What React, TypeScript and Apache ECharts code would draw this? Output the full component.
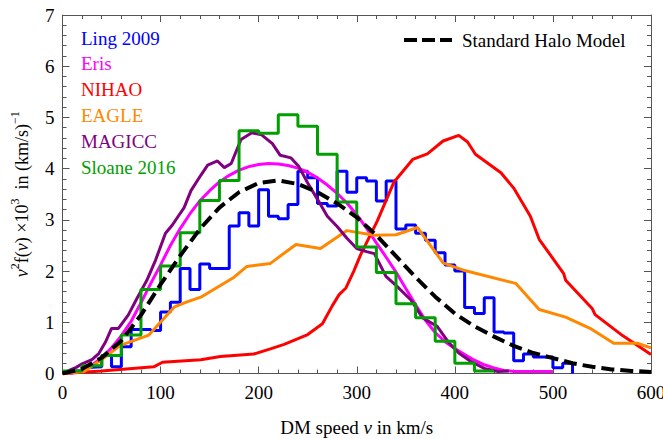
import React, { useEffect, useRef } from "react";
import * as echarts from "echarts";

const FONT = "'Liberation Serif', 'Times New Roman', serif";
const AXIS_COLOR = "#555";

// Ling 2009 histogram (10 km/s bins, left edges)
const lingEdges = [0, 10, 20, 30, 40, 50, 60, 70, 80, 90, 100, 110, 120, 130, 140, 150, 160, 170, 180, 190, 200, 210, 220, 230, 240, 250, 260, 270, 280, 290, 300, 310, 320, 330, 340, 350, 360, 370, 380, 390, 400, 410, 420, 430, 440, 450, 460, 470, 480, 490, 500, 510, 520];
const lingValues = [0.03, 0.05, 0.12, 0.13, 0.35, 0.13, 0.52, 0.86, 0.86, 0.84, 1.2, 1.39, 2.05, 1.64, 2.14, 2.05, 2.05, 2.88, 3.14, 2.88, 3.59, 3.07, 3.02, 3.3, 3.95, 3.82, 3.32, 3.27, 3.95, 3.54, 3.82, 3.76, 3.37, 3.76, 2.82, 2.9, 2.74, 2.6, 2.36, 2.12, 2.0, 1.29, 1.17, 1.48, 0.81, 0.79, 0.25, 0.38, 0.32, 0.32, 0.11, 0.2, 0];

// Sloane 2016 histogram (20 km/s bins, left edges)
const sloaneEdges = [0, 20, 40, 60, 80, 100, 120, 140, 160, 180, 200, 220, 240, 260, 280, 300, 320, 340, 360, 380, 400, 420, 440];
const sloaneValues = [0.05, 0.15, 0.35, 0.75, 1.64, 2.1, 2.75, 3.38, 3.77, 4.74, 4.69, 5.05, 4.83, 4.28, 3.35, 2.47, 1.97, 1.36, 1.09, 0.63, 0.2, 0.05, 0.05];

// Eris
const erisV = [0, 10, 20, 30, 40, 50, 60, 70, 80, 90, 100, 110, 120, 130, 140, 150, 160, 170, 180, 190, 200, 210, 220, 230, 240, 250, 260, 270, 280, 290, 300, 310, 320, 330, 340, 350, 360, 370, 380, 390, 400, 410, 420, 430, 440, 450, 460, 500];
const erisF = [0, 0.01, 0.06, 0.16, 0.31, 0.5, 0.74, 1.02, 1.38, 1.76, 2.12, 2.5, 2.83, 3.12, 3.37, 3.57, 3.74, 3.87, 3.97, 4.04, 4.08, 4.1, 4.09, 4.06, 4.01, 3.93, 3.82, 3.68, 3.52, 3.33, 3.1, 2.84, 2.55, 2.27, 1.98, 1.66, 1.34, 1.04, 0.8, 0.62, 0.49, 0.37, 0.26, 0.17, 0.11, 0.06, 0.04, 0.04];

// NIHAO
const nihaoV = [0, 40, 93, 102, 141, 161, 195, 212, 226, 250, 265, 275, 282, 289, 297, 304, 321, 338, 357, 372, 388, 404, 413, 421, 447, 460, 477, 486, 511, 513, 540, 543, 571, 600];
const nihaoF = [0, 0.05, 0.13, 0.22, 0.27, 0.33, 0.38, 0.48, 0.57, 0.76, 0.97, 1.32, 1.54, 1.67, 2.0, 2.32, 2.98, 3.74, 4.18, 4.29, 4.54, 4.65, 4.52, 4.28, 3.92, 3.62, 3.07, 2.62, 1.95, 1.82, 1.27, 1.15, 0.74, 0.37];

// EAGLE
const eagleV = [0, 22, 39, 59, 88, 114, 127, 141, 175, 188, 212, 238, 263, 290, 318, 340, 362, 388, 410, 462, 486, 513, 539, 562, 586, 600];
const eagleF = [0, 0.04, 0.26, 0.55, 0.75, 1.3, 1.4, 1.49, 1.88, 2.09, 2.15, 2.52, 2.44, 2.79, 2.7, 2.71, 2.85, 2.16, 2.01, 1.76, 1.25, 1.1, 0.87, 0.59, 0.59, 0.5];

// MAGICC
const magiccV = [0, 8, 14, 20, 30, 37, 44, 50, 57, 67, 76, 86, 95, 105, 112, 118, 124, 131, 141, 148, 158, 165, 172, 182, 193, 203, 214, 222, 233, 241, 250, 260, 270, 280, 290, 300, 310, 318, 330, 340, 355, 367, 382, 394, 404, 416, 430, 444, 455];
const magiccF = [0, 0.07, 0.12, 0.19, 0.27, 0.39, 0.62, 0.88, 0.88, 1.14, 1.47, 1.82, 2.22, 2.74, 2.9, 3.07, 3.24, 3.57, 3.87, 4.07, 4.15, 4.02, 4.1, 4.57, 4.7, 4.66, 4.49, 4.26, 4.21, 4.04, 3.72, 3.4, 3.07, 2.87, 2.64, 2.44, 2.38, 2.34, 1.89, 1.72, 1.44, 1.09, 0.92, 0.6, 0.4, 0.24, 0.1, 0.04, 0.05];

// Standard Halo Model
const shmV = [0, 20, 40, 60, 80, 100, 120, 140, 160, 180, 200, 220, 240, 260, 280, 300, 320, 340, 360, 380, 400, 420, 440, 460, 480, 500, 520, 540, 560, 580, 600];
const shmF = [0, 0.09, 0.31, 0.64, 1.14, 1.74, 2.3, 2.82, 3.24, 3.54, 3.72, 3.77, 3.7, 3.54, 3.32, 3.05, 2.7, 2.29, 1.88, 1.5, 1.17, 0.92, 0.72, 0.54, 0.4, 0.3, 0.2, 0.13, 0.08, 0.05, 0.03];

const leftLegendNames = ["Ling 2009", "Eris", "NIHAO", "EAGLE", "MAGICC", "Sloane 2016"];
const shmLegendName = "Standard Halo Model";

const xTicks = { min: 0, max: 600, interval: 100 };
const yTicks = { min: 0, max: 7, interval: 1 };

const COLORS: Record<string, string> = {
  "Ling 2009": "#0000ff",
  Eris: "#ff00ff",
  NIHAO: "#ff0000",
  EAGLE: "#ff8800",
  MAGICC: "#800080",
  "Sloane 2016": "#00a000",
  "Standard Halo Model": "#000000",
};

function pairs(xs: number[], ys: number[]) {
  return xs.map((x, i) => [x, ys[i]]);
}

function axisCommon() {
  return {
    type: "value" as const,
    axisLine: { show: true, onZero: false, lineStyle: { color: AXIS_COLOR, width: 1 } },
    axisTick: { show: true, inside: true, length: 7, lineStyle: { color: AXIS_COLOR } },
    minorTick: { show: true, splitNumber: 5, length: 4, lineStyle: { color: AXIS_COLOR } },
    splitLine: { show: false },
    minorSplitLine: { show: false },
  };
}

const supStyle = { fontFamily: FONT, fontSize: 12, lineHeight: 13, verticalAlign: "top" as const, color: "#000" };
const nStyle = { fontFamily: FONT, fontSize: 18, lineHeight: 26, color: "#000" };
const iStyle = { fontFamily: FONT, fontSize: 18, lineHeight: 26, fontStyle: "italic" as const, color: "#000" };
const nxStyle = { fontFamily: FONT, fontSize: 19, lineHeight: 20, color: "#000" };
const ixStyle = { fontFamily: FONT, fontSize: 19, lineHeight: 20, fontStyle: "italic" as const, color: "#000" };

export default function App() {
  const ref = useRef<HTMLDivElement>(null);
  useEffect(() => {
    if (!ref.current) return;
    const chart = echarts.init(ref.current, undefined, { renderer: "svg" });
    const lineSeries = (name: string, data: number[][], extra: any = {}) => ({
      name,
      type: "line",
      data,
      symbol: "none",
      showSymbol: false,
      lineStyle: { color: COLORS[name], width: 3 },
      itemStyle: { color: COLORS[name] },
      xAxisIndex: 0,
      yAxisIndex: 0,
      z: 2,
      ...extra,
    });
    chart.setOption({
      animation: false,
      textStyle: { fontFamily: FONT },
      grid: { left: 62.5, right: 12, top: 15, bottom: 65.5, containLabel: false, outerBoundsMode: "none" },
      legend: [
        {
          orient: "vertical",
          left: 71,
          top: 23.5,
          icon: "none",
          itemWidth: 0,
          itemHeight: 19,
          itemGap: 6.8,
          selectedMode: false,
          textStyle: { fontFamily: FONT, fontSize: 19 },
          data: leftLegendNames.map((n) => ({
            name: n,
            textStyle: { color: COLORS[n], fontFamily: FONT, fontSize: 19 },
          })),
        },
      ],
      graphic: [
        {
          type: "line",
          shape: { x1: 404, y1: 40, x2: 452, y2: 40 },
          style: { stroke: "#000", lineWidth: 4, lineDash: [13, 5] },
          silent: true,
        },
        {
          type: "text",
          x: 462,
          y: 40,
          style: {
            text: shmLegendName,
            fontFamily: FONT,
            fontSize: 19,
            fill: "#000",
            verticalAlign: "middle",
            align: "left",
          },
          silent: true,
        },
      ],
      xAxis: [
        {
          ...axisCommon(),
          ...xTicks,
          position: "bottom",
          axisLabel: { color: "#000", fontFamily: FONT, fontSize: 19, margin: 9 },
          name: "{n|DM speed }{i|v}{n| in km/s}",
          nameLocation: "middle",
          nameGap: 44,
          nameTextStyle: { fontFamily: FONT, rich: { n: nxStyle, i: ixStyle } },
        },
        {
          ...axisCommon(),
          ...xTicks,
          position: "top",
          axisLabel: { show: false },
        },
      ],
      yAxis: [
        {
          ...axisCommon(),
          ...yTicks,
          position: "left",
          axisLabel: { color: "#000", fontFamily: FONT, fontSize: 19, margin: 8 },
          name: "{i|v}{s|2}{n|f(}{i|v}{n|) ×10}{s|3}{n|  in (km/s)}{s|−1}",
          nameLocation: "middle",
          nameRotate: 90,
          nameGap: 28,
          nameTextStyle: { fontFamily: FONT, rich: { n: nStyle, i: iStyle, s: supStyle } },
        },
        {
          ...axisCommon(),
          ...yTicks,
          position: "right",
          axisLabel: { show: false },
        },
      ],
      series: [
        lineSeries("Ling 2009", pairs(lingEdges, lingValues), { step: "end" }),
        lineSeries("Eris", pairs(erisV, erisF)),
        lineSeries("NIHAO", pairs(nihaoV, nihaoF)),
        lineSeries("EAGLE", pairs(eagleV, eagleF)),
        lineSeries("MAGICC", pairs(magiccV, magiccF)),
        lineSeries("Sloane 2016", pairs(sloaneEdges, sloaneValues), { step: "end" }),
        lineSeries(shmLegendName, pairs(shmV, shmF), {
          lineStyle: { color: "#000", width: 4, type: [13, 6], cap: "butt" },
          z: 3,
        }),
      ],
    });
    return () => chart.dispose();
  }, []);
  return (
    <div
      ref={ref}
      style={{ position: "absolute", left: 0, top: 0, width: 663, height: 439, background: "#fff" }}
    />
  );
}
